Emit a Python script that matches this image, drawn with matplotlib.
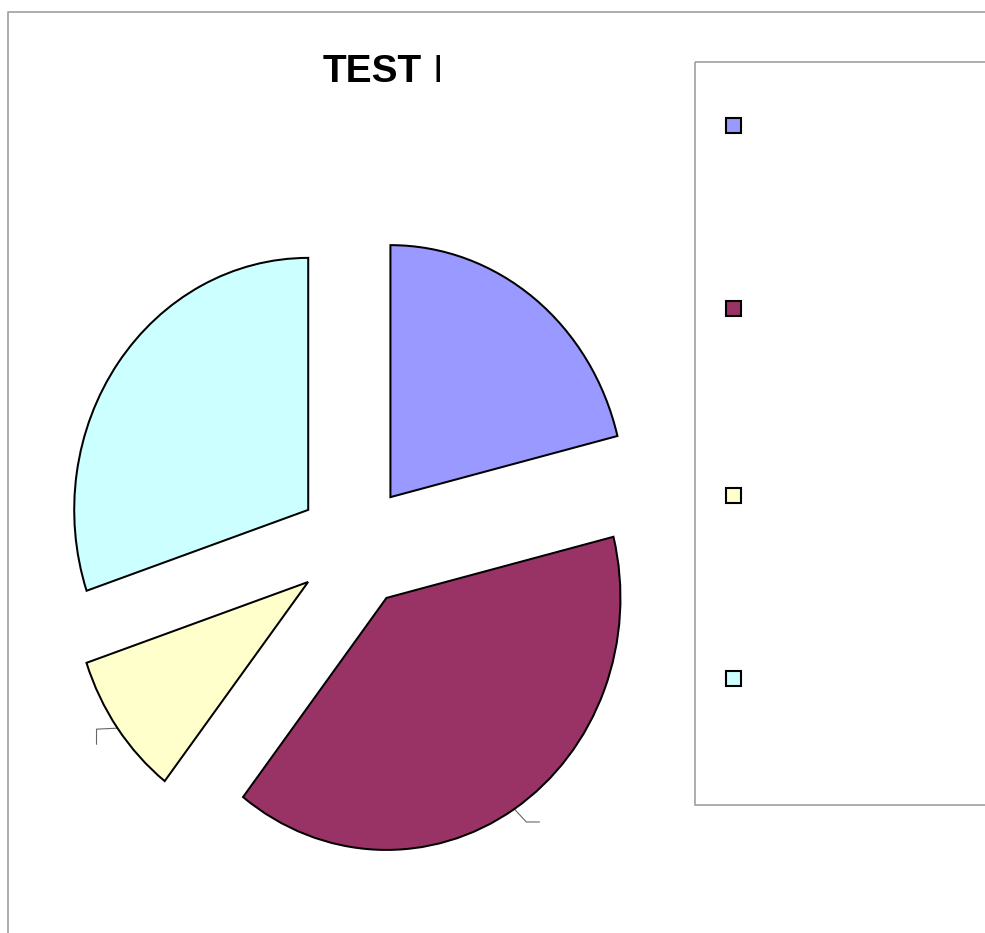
import math
import matplotlib
matplotlib.use("Agg")
import matplotlib.pyplot as plt
from matplotlib.patches import Rectangle

# ---- data ----
values = [21.1, 39.4, 9.3, 30.2]
colors = ['#9999FF', '#993366', '#FFFFCC', '#CCFFFF']
title_main = "TEST"
title_suffix = "I"

W, H = 985, 933
CX, CY, RX, RY = 355, 546, 234, 252   # pie centre / radii in pixels
EXPLODE = 0.246

fig = plt.figure(figsize=(W / 100, H / 100), dpi=100)
fig.patch.set_facecolor('white')

ax = fig.add_axes([0, 0, 1, 1])
wedges, _ = ax.pie(values, colors=colors, startangle=90, counterclock=False,
                   explode=[EXPLODE] * len(values), radius=1,
                   wedgeprops=dict(edgecolor='black', linewidth=1.45))
ax.set_aspect('auto')
ax.set_xlim(-CX / RX, (W - CX) / RX)
ax.set_ylim(-(H - CY) / RY, CY / RY)
ax.axis('off')

# leader lines (for the yellow and maroon slices)
total = sum(values)
cum = 0
mids = []
for v in values:
    mids.append(math.radians(90 - 360 * (cum + v / 2) / total))
    cum += v

def arc_pt(i):
    t = mids[i]
    return (1 + EXPLODE) * math.cos(t), (1 + EXPLODE) * math.sin(t)

x0, y0 = arc_pt(2)
ax.plot([x0, x0 - 21 / RX, x0 - 21 / RX], [y0, y0 - 1 / RY, y0 - 16 / RY],
        color='#666666', lw=0.8, zorder=0)
x0, y0 = arc_pt(1)
ax.plot([x0, x0 + 12 / RX, x0 + 25 / RX], [y0, y0 - 13 / RY, y0 - 13 / RY],
        color='#666666', lw=0.8, zorder=0)

# overlay in pixel coords for frame, legend and title
ov = fig.add_axes([0, 0, 1, 1], facecolor='none')
ov.set_xlim(0, W)
ov.set_ylim(H, 0)
ov.axis('off')
ov.plot([8, 8, W + 5], [H + 5, 12, 12], color='#a0a0a0', lw=1.2)
ov.add_patch(Rectangle((695, 62), 320, 743, fill=False, edgecolor='#a0a0a0', lw=1.2))
for c, yc in zip(colors, [125, 308, 495, 678]):
    ov.add_patch(Rectangle((725.5, yc - 7.5), 15, 15, facecolor=c,
                           edgecolor='black', lw=1.5))

ov.text(323, 82, title_main, ha='left', va='baseline', fontsize=28,
        fontweight='bold', family='Liberation Sans')
ov.text(433, 82, title_suffix, ha='left', va='baseline', fontsize=27,
        family='Liberation Sans')

fig.savefig('out.png', dpi=100, facecolor='white')
